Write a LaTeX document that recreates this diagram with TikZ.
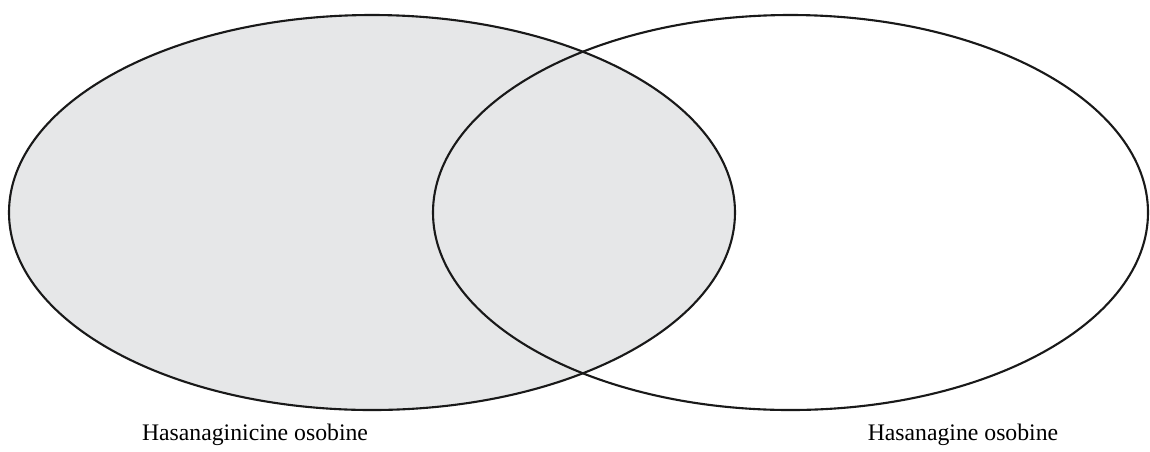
\documentclass[tikz,border=0pt]{standalone}
\usepackage{fontspec}
\setmainfont{Liberation Serif}
\definecolor{setgray}{HTML}{E6E7E8}
\begin{document}
\begin{tikzpicture}[x=0.02cm,y=-0.02cm,
    setline/.style={draw=black!90,line width=1.2pt},
    setlabel/.style={anchor=base,inner sep=0pt,font=\fontsize{13.5}{16}\selectfont}]
  % Venn diagram of the two sets of traits
  \useasboundingbox (0,0) rectangle (1150,451);

  % Sets
  \fill[setgray] (372,212.5) ellipse [x radius=363,y radius=197.5];
  \draw[setline] (372,212.5) ellipse [x radius=363,y radius=197.5];
  \draw[setline] (790.5,212.5) ellipse [x radius=357.5,y radius=197.5];

  % Labels
  \node[setlabel] (leftset) at (255,440) {Hasanaginicine osobine};
  \node[setlabel] (rightset) at (963,440) {Hasanagine osobine};
\end{tikzpicture}
\end{document}
